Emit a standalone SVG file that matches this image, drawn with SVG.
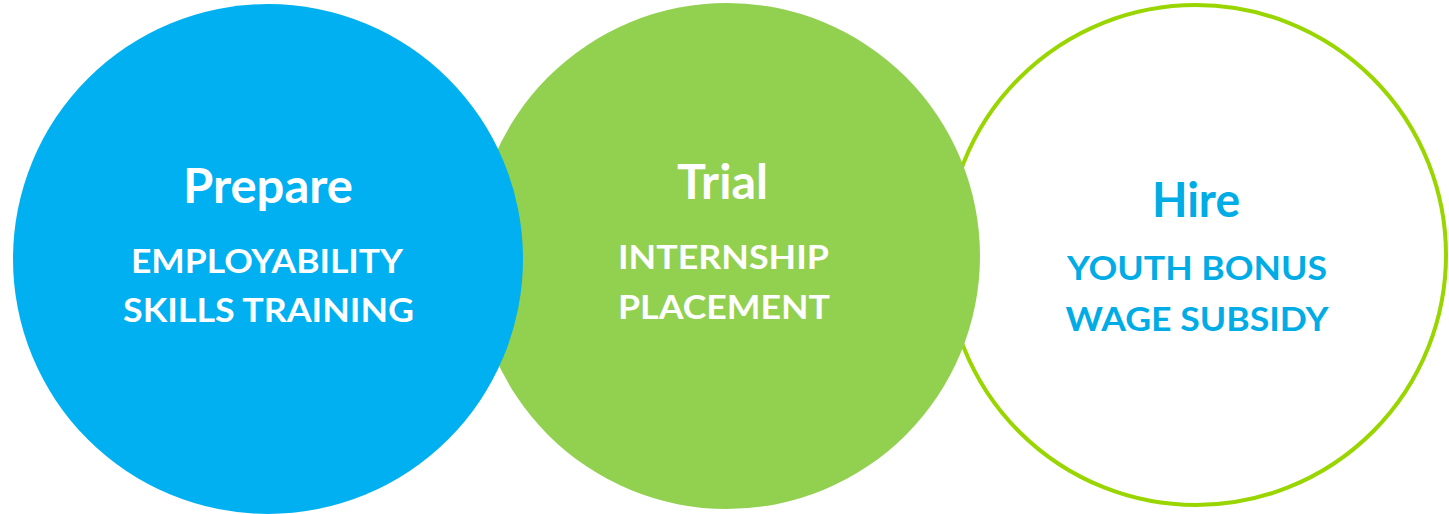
<svg xmlns="http://www.w3.org/2000/svg" width="1449" height="514" viewBox="0 0 1449 514">
  <style>
    .title { font-family: Lato, "Open Sans", "Liberation Sans", sans-serif; font-weight: 700; font-size: 47px; text-anchor: middle; }
    .sub { font-family: Lato, "Open Sans", "Liberation Sans", sans-serif; font-weight: 700; font-size: 32px; text-anchor: middle; }
    .on-fill { fill: #FFFFFF; }
    .on-white { fill: #00ACE6; }
  </style>
  <rect width="1449" height="514" fill="#FFFFFF"/>

  <!-- Stage 3: outlined circle, drawn first so the filled circles overlap it -->
  <g id="hire">
    <circle cx="1196" cy="255" r="250" fill="#FFFFFF" stroke="#99D600" stroke-width="4"/>
    <text class="title on-white" x="1196" y="217" textLength="88" lengthAdjust="spacingAndGlyphs">Hire</text>
    <text class="sub on-white" x="1197" y="280" textLength="260" lengthAdjust="spacingAndGlyphs">YOUTH BONUS</text>
    <text class="sub on-white" x="1197" y="331" textLength="263" lengthAdjust="spacingAndGlyphs">WAGE SUBSIDY</text>
  </g>

  <!-- Stage 2: green circle -->
  <g id="trial">
    <circle cx="727" cy="256" r="253" fill="#92D050"/>
    <text class="title on-fill" x="722.5" y="199" textLength="91" lengthAdjust="spacingAndGlyphs">Trial</text>
    <text class="sub on-fill" x="723.5" y="269" textLength="211" lengthAdjust="spacingAndGlyphs">INTERNSHIP</text>
    <text class="sub on-fill" x="724" y="319" textLength="212" lengthAdjust="spacingAndGlyphs">PLACEMENT</text>
  </g>

  <!-- Stage 1: blue circle, on top -->
  <g id="prepare">
    <circle cx="268" cy="259" r="255" fill="#00B0F0"/>
    <text class="title on-fill" x="268" y="203" textLength="170" lengthAdjust="spacingAndGlyphs">Prepare</text>
    <text class="sub on-fill" x="267" y="273" textLength="272" lengthAdjust="spacingAndGlyphs">EMPLOYABILITY</text>
    <text class="sub on-fill" x="268.5" y="322" textLength="291" lengthAdjust="spacingAndGlyphs">SKILLS TRAINING</text>
  </g>
</svg>
